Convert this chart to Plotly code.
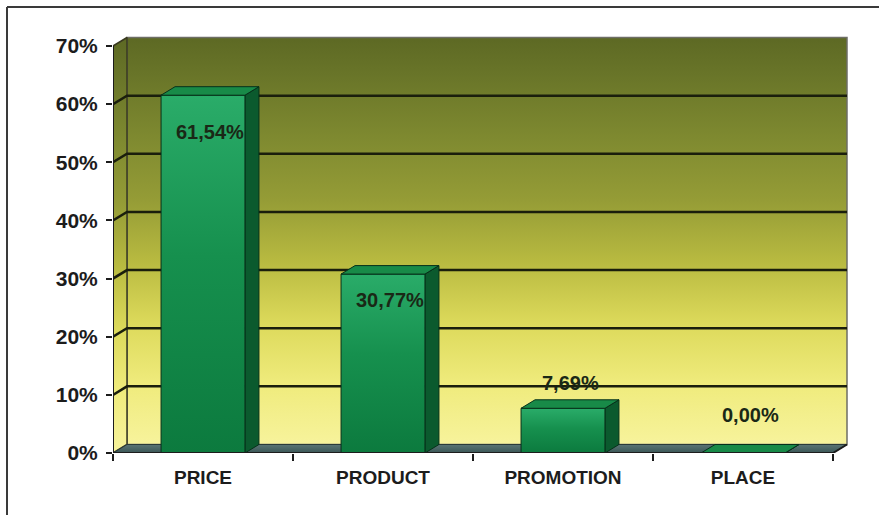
import plotly.graph_objects as go

# ---- data -------------------------------------------------------------
categories = ["PRICE", "PRODUCT", "PROMOTION", "PLACE"]
shares = [61.54, 30.77, 7.69, 0.00]
value_labels = ["61,54%", "30,77%", "7,69%", "0,00%"]
y_ticks = [0, 10, 20, 30, 40, 50, 60, 70]
y_tick_labels = [f"{t}%" for t in y_ticks]

# ---- geometry ---------------------------------------------------------
W, H = 879, 515
ML, MR, MT, MB = 113, 27, 36, 62
Y_MAX = y_ticks[-1]
x_lo, x_hi = -0.5, len(categories) - 0.5
px_x = 180.0                                 # pixels per category
px_y = (H - MB - 46) / Y_MAX                 # pixels per percent
x_range = [x_lo, x_hi + (W - MR - ML - px_x * len(categories)) / px_x]
y_range = [0, Y_MAX + 10 / px_y]
DX = 14 / px_x                               # depth offset (x)
DY = 8.5 / px_y                              # depth offset (y)
HW = 0.233                                   # half bar width

FONT = "Liberation Sans, Arial, sans-serif"
INK = "#1c1c1c"

fig = go.Figure()


def poly(xs, ys, **kw):
    fig.add_trace(go.Scatter(x=xs + xs[:1], y=ys + ys[:1], mode="lines",
                             fill="toself", hoverinfo="skip",
                             showlegend=False, **kw))


def seg(xs, ys, color=INK, width=2):
    fig.add_trace(go.Scatter(x=xs, y=ys, mode="lines", hoverinfo="skip",
                             showlegend=False, cliponaxis=False,
                             line=dict(color=color, width=width)))


wall_scale = [[0.0, "#f7f39c"], [0.15, "#efeb7c"], [0.3, "#dcd95a"],
              [0.45, "#b8ba40"], [0.6, "#959c36"], [0.75, "#7f8a30"],
              [0.9, "#6a7629"], [1.0, "#5d6924"]]

# back wall
poly([x_lo + DX, x_hi + DX, x_hi + DX, x_lo + DX],
     [DY, DY, Y_MAX + DY, Y_MAX + DY],
     line=dict(color="#6e6e66", width=1.5),
     fillgradient=dict(type="vertical", colorscale=wall_scale,
                       start=DY, stop=Y_MAX + DY))

# left side wall
poly([x_lo, x_lo + DX, x_lo + DX, x_lo],
     [0, DY, Y_MAX + DY, Y_MAX],
     line=dict(color="#3a3a20", width=1.5),
     fillgradient=dict(type="vertical", colorscale=wall_scale,
                       start=0, stop=Y_MAX + DY))

# floor
poly([x_lo, x_hi, x_hi + DX, x_lo + DX], [0, 0, DY, DY],
     line=dict(color="#2a3a3a", width=1),
     fillgradient=dict(type="vertical",
                       colorscale=[[0, "#3a5656"], [1, "#5a7474"]],
                       start=0, stop=DY))

# gridlines on the back wall and the left side wall
for t in y_ticks[1:-1]:
    seg([x_lo, x_lo + DX, x_hi + DX], [t, t + DY, t + DY],
        color="#1a1e0c", width=2.5)

# bars: right side, front face, top face
for i, v in enumerate(shares):
    x0, x1 = i - HW, i + HW
    poly([x1, x1 + DX, x1 + DX, x1], [0, DY, v + DY, v],
         line=dict(color="#06301a", width=1), fillcolor="#0b5a2e")
    poly([x0, x1, x1, x0], [0, 0, v, v],
         line=dict(color="#06301a", width=1),
         fillgradient=dict(type="vertical",
                           colorscale=[[0, "#0c7a3e"], [0.55, "#16904e"],
                                       [1, "#2aac69"]],
                           start=0, stop=max(v, 0.01)))
    poly([x0, x1, x1 + DX, x0 + DX], [v, v, v + DY, v + DY],
         line=dict(color="#06301a", width=1), fillcolor="#188a48")

# axis lines
seg([x_lo, x_lo], [0, Y_MAX], width=2)
seg([x_lo, x_hi], [0, 0], width=2)
seg([x_hi, x_hi + DX], [0, DY], width=2)

# value labels
label_shift = [-37, -26, 25, 38]
for i, (v, txt) in enumerate(zip(shares, value_labels)):
    fig.add_annotation(x=i + DX / 2, y=v, yshift=label_shift[i],
                       text=f"<b>{txt}</b>", showarrow=False,
                       font=dict(family=FONT, size=20, color="#1a2816"))

# chart frame
to_px = lambda px: (px - ML) / (W - ML - MR)
to_py = lambda py: (H - MB - py) / (H - MT - MB)
frame = dict(color="#3a3a3a", width=2)
fig.add_shape(type="line", xref="paper", yref="paper",
              x0=to_px(7), x1=to_px(W + 5), y0=to_py(7), y1=to_py(7),
              line=frame)
fig.add_shape(type="line", xref="paper", yref="paper",
              x0=to_px(7), x1=to_px(7), y0=to_py(7), y1=to_py(H + 5),
              line=frame)

fig.update_layout(
    width=W, height=H,
    margin=dict(l=ML, r=MR, t=MT, b=MB),
    paper_bgcolor="white", plot_bgcolor="white",
    showlegend=False, hovermode=False,
    font=dict(family=FONT, color=INK),
    xaxis=dict(range=x_range, showgrid=False, zeroline=False,
               showline=False, fixedrange=True,
               tickmode="array", tickvals=list(range(len(categories))),
               ticktext=[f"<b>{c}</b>" for c in categories],
               ticks="", ticklabelstandoff=11,
               tickfont=dict(family=FONT, size=19, color=INK),
               minor=dict(tickmode="array",
                          tickvals=[x_lo + k for k in range(len(categories) + 1)],
                          ticks="outside", ticklen=7, tickwidth=2,
                          tickcolor=INK)),
    yaxis=dict(range=y_range, showgrid=False, zeroline=False,
               showline=False, fixedrange=True,
               tickmode="array", tickvals=y_ticks,
               ticktext=[f"<b>{t}</b>" for t in y_tick_labels],
               ticks="outside", ticklen=6, tickwidth=2, tickcolor=INK,
               ticklabelstandoff=4,
               tickfont=dict(family=FONT, size=21, color=INK)),
)

fig.write_html("out.html")
